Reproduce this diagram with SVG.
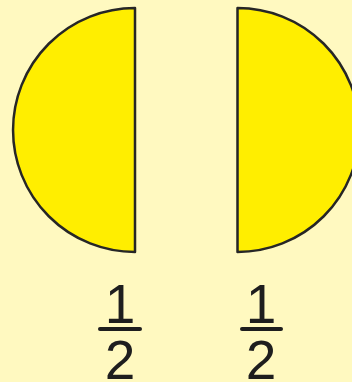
<svg xmlns="http://www.w3.org/2000/svg" width="352" height="382" viewBox="0 0 352 382">
<style>
.half{fill:#FFEE00;stroke:#262626;stroke-width:2.5;stroke-linejoin:round}
.num{font-family:"Liberation Sans",Arial,sans-serif;font-size:55px;fill:#1e1e1e;text-anchor:middle}
.bar{stroke:#1e1e1e;stroke-width:4;stroke-linecap:round}
</style>
<rect width="352" height="382" fill="#FFF9C0"/>
<g id="left-half">
<path class="half" d="M135,8 A122,122 0 0 0 135,252 Z"/>
</g>
<g id="right-half">
<path class="half" d="M237.5,8 A122,122 0 0 1 237.5,252 Z"/>
</g>
<g id="left-fraction">
<text class="num" x="120" y="323">1</text>
<line class="bar" x1="100" y1="329" x2="140" y2="329"/>
<text class="num" x="120" y="379">2</text>
</g>
<g id="right-fraction">
<text class="num" x="261" y="323">1</text>
<line class="bar" x1="242" y1="329" x2="281" y2="329"/>
<text class="num" x="261" y="379">2</text>
</g>
</svg>
